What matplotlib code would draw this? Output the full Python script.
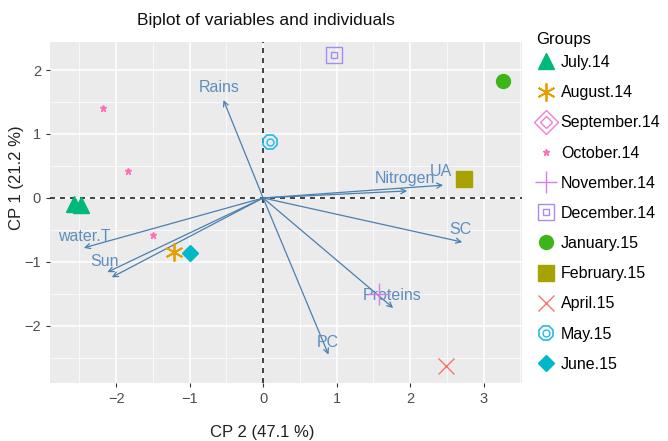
import matplotlib

matplotlib.use("Agg")
import matplotlib.pyplot as plt  # noqa: E402
from matplotlib.lines import Line2D  # noqa: E402
from matplotlib.legend_handler import HandlerTuple  # noqa: E402

plt.rcParams["font.family"] = ["Liberation Sans", "DejaVu Sans"]

# individuals (CP 2, CP 1) per group
GROUPS = ["July.14", "August.14", "September.14", "October.14", "November.14",
          "December.14", "January.15", "February.15", "April.15", "May.15", "June.15"]
PTS_X = {
    "July.14": [-2.57, -2.48],
    "August.14": [-1.22],
    "September.14": [],
    "October.14": [-2.18, -1.84, -1.50],
    "November.14": [1.58],
    "December.14": [0.97],
    "January.15": [3.27],
    "February.15": [2.74],
    "April.15": [2.49],
    "May.15": [0.09],
    "June.15": [-0.99],
}
PTS_Y = {
    "July.14": [-0.10, -0.11],
    "August.14": [-0.84],
    "September.14": [],
    "October.14": [1.41, 0.42, -0.58],
    "November.14": [-1.50],
    "December.14": [2.23],
    "January.15": [1.83],
    "February.15": [0.30],
    "April.15": [-2.63],
    "May.15": [0.88],
    "June.15": [-0.86],
}

# variable arrows
VAR_NAMES = ["Rains", "water.T", "Sun", "", "Nitrogen", "UA", "SC", "Proteins", "PC"]
VAR_X = [-0.54, -2.44, -2.12, -2.06, 1.96, 2.45, 2.71, 1.77, 0.89]
VAR_Y = [1.53, -0.78, -1.16, -1.24, 0.11, 0.20, -0.69, -1.72, -2.45]
LAB_X = [-0.60, -2.43, -2.16, 0.0, 1.93, 2.42, 2.69, 1.76, 0.88]
LAB_Y = [1.73, -0.60, -0.99, 0.0, 0.31, 0.41, -0.50, -1.53, -2.26]

COLORS = {
    "July.14": "#00B87A", "August.14": "#E69F00", "September.14": "#F07FD0",
    "October.14": "#FF6FB5", "November.14": "#D77FE8", "December.14": "#A78BF5",
    "January.15": "#3DB51A", "February.15": "#A8A200", "April.15": "#F8766D",
    "May.15": "#27B8E8", "June.15": "#00B8C8",
}
ARROW_COL = "#4A7FB0"
LABEL_COL = "#5E8DBF"


def handle(g):
    c = COLORS[g]
    if g == "July.14":
        return Line2D([], [], ls="", marker="^", ms=11, color=c)
    if g == "August.14":
        return Line2D([], [], ls="", marker=(6, 2, 0), ms=13, color=c, mew=1.3)
    if g == "September.14":
        return (Line2D([], [], ls="", marker="D", ms=12, mfc="none", mec=c, mew=1),
                Line2D([], [], ls="", marker="D", ms=6, mfc="none", mec=c, mew=1))
    if g == "October.14":
        return Line2D([], [], ls="", marker="*", ms=5, color=c)
    if g == "November.14":
        return Line2D([], [], ls="", marker="+", ms=16, color=c, mew=1)
    if g == "December.14":
        return (Line2D([], [], ls="", marker="s", ms=11, mfc="none", mec=c, mew=1),
                Line2D([], [], ls="", marker="s", ms=5, mfc="none", mec=c, mew=1))
    if g == "January.15":
        return Line2D([], [], ls="", marker="o", ms=10, color=c)
    if g == "February.15":
        return Line2D([], [], ls="", marker="s", ms=11, color=c)
    if g == "April.15":
        return Line2D([], [], ls="", marker="x", ms=12, color=c, mew=1)
    if g == "May.15":
        return (Line2D([], [], ls="", marker="8", ms=11, mfc="none", mec=c, mew=1.2),
                Line2D([], [], ls="", marker="o", ms=5, mfc="none", mec=c, mew=1))
    return Line2D([], [], ls="", marker="D", ms=8, color=c)


fig = plt.figure(figsize=(6.68, 4.41), dpi=100)
ax = fig.add_axes([0.075, 0.132, 0.706, 0.773])
ax.set_facecolor("#EBEBEB")
ax.set_xlim(-2.9, 3.52)
ax.set_ylim(-2.89, 2.44)
ax.set_xticks([-2, -1, 0, 1, 2, 3])
ax.set_yticks([-2, -1, 0, 1, 2])
ax.set_xticks([-2.5, -1.5, -0.5, 0.5, 1.5, 2.5, 3.5], minor=True)
ax.set_yticks([-2.5, -1.5, -0.5, 0.5, 1.5], minor=True)
ax.grid(True, which="major", color="white", lw=1.1)
ax.grid(True, which="minor", color="white", lw=0.5)
ax.set_axisbelow(True)
for s in ax.spines.values():
    s.set_visible(False)
ax.tick_params(which="major", colors="#333333", labelcolor="#4D4D4D", labelsize=10.5, length=3)
ax.tick_params(which="minor", length=0)

ax.axhline(0, color="#222222", ls=(0, (3, 3)), lw=1.2, zorder=1)
ax.axvline(0, color="#222222", ls=(0, (3, 3)), lw=1.2, zorder=1)

for name, vx, vy, lx, ly in zip(VAR_NAMES, VAR_X, VAR_Y, LAB_X, LAB_Y):
    ax.annotate("", xy=(vx, vy), xytext=(0, 0),
                arrowprops=dict(arrowstyle="->", color=ARROW_COL, lw=0.9,
                                shrinkA=0, shrinkB=0, mutation_scale=9), zorder=2)
    if name:
        ax.text(lx, ly, name, color=LABEL_COL, fontsize=11.5, ha="center", va="center", zorder=3)

for g in GROUPS:
    h = handle(g)
    hs = h if isinstance(h, tuple) else (h,)
    for hh in hs:
        ax.plot(PTS_X[g], PTS_Y[g], ls="", marker=hh.get_marker(), ms=hh.get_markersize(),
                mfc=hh.get_markerfacecolor(), mec=hh.get_markeredgecolor(),
                mew=hh.get_markeredgewidth(), zorder=4)

ax.set_xlabel("CP 2 (47.1 %)", fontsize=12, color="#222222")
ax.set_ylabel("CP 1 (21.2 %)", fontsize=12, color="#222222")
ax.xaxis.set_label_coords((262 - 50) / 472, -0.125)
ax.yaxis.set_label_coords(-0.055, (383 - 178) / 341)

fig.text(266 / 668, 1 - 20 / 441, "Biplot of variables and individuals",
         ha="center", va="center", fontsize=12.5, color="#111111")

leg = ax.legend([handle(g) for g in GROUPS], GROUPS, title="Groups",
                handler_map={tuple: HandlerTuple(ndivide=1, pad=0)},
                loc="upper left", bbox_to_anchor=(1.01, 1.058), frameon=False,
                fontsize=11.5, title_fontsize=12, handlelength=1.2, handletextpad=0.35,
                labelspacing=0.95, borderaxespad=0.2)
leg._legend_box.align = "left"
leg._legend_box.sep = 6

fig.savefig("out.png", dpi=100)
